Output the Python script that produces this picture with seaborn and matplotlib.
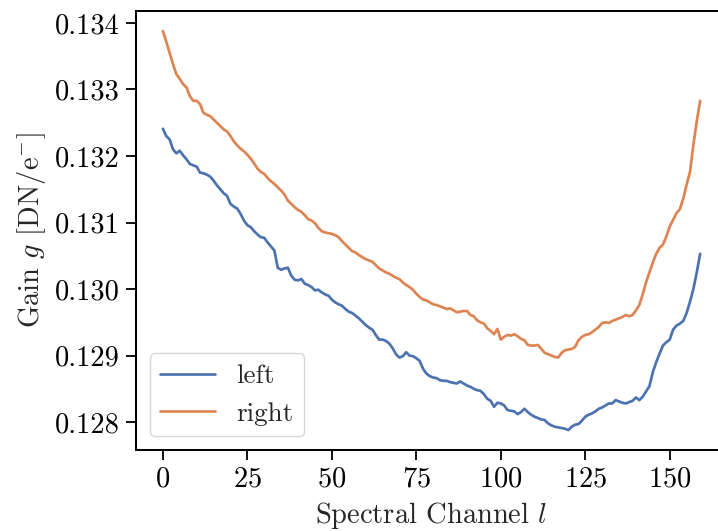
import numpy as np
import pandas as pd
import matplotlib
matplotlib.use("Agg")
import matplotlib.pyplot as plt
import seaborn as sns

# Gain values in units of 1e-3 DN/e-
channels = list(range(160))
gain_left = [
    132.41, 132.30, 132.25, 132.10, 132.04, 132.08, 132.01, 131.95, 131.88, 131.86,
    131.84, 131.75, 131.74, 131.72, 131.69, 131.63, 131.56, 131.50, 131.44, 131.40,
    131.28, 131.24, 131.21, 131.13, 131.03, 130.96, 130.93, 130.87, 130.82, 130.78,
    130.77, 130.70, 130.64, 130.58, 130.32, 130.29, 130.31, 130.32, 130.20, 130.14,
    130.13, 130.15, 130.08, 130.06, 130.03, 129.98, 129.99, 129.95, 129.92, 129.90,
    129.84, 129.80, 129.77, 129.75, 129.70, 129.66, 129.64, 129.60, 129.56, 129.51,
    129.46, 129.42, 129.39, 129.31, 129.24, 129.24, 129.22, 129.18, 129.11, 129.02,
    128.97, 128.99, 129.05, 129.00, 128.99, 128.96, 128.92, 128.80, 128.73, 128.69,
    128.67, 128.66, 128.63, 128.62, 128.62, 128.60, 128.59, 128.58, 128.61, 128.58,
    128.55, 128.53, 128.50, 128.48, 128.47, 128.42, 128.35, 128.32, 128.23, 128.29,
    128.28, 128.25, 128.18, 128.17, 128.16, 128.12, 128.15, 128.20, 128.15, 128.11,
    128.08, 128.06, 128.04, 128.03, 127.98, 127.95, 127.93, 127.92, 127.91, 127.90,
    127.88, 127.93, 127.96, 127.97, 128.02, 128.08, 128.11, 128.13, 128.16, 128.20,
    128.22, 128.25, 128.28, 128.28, 128.33, 128.31, 128.29, 128.28, 128.30, 128.32,
    128.37, 128.33, 128.38, 128.46, 128.54, 128.75, 128.90, 129.03, 129.15, 129.20,
    129.24, 129.39, 129.45, 129.48, 129.52, 129.64, 129.81, 130.00, 130.25, 130.53,
]
gain_right = [
    133.88, 133.72, 133.55, 133.38, 133.23, 133.16, 133.08, 133.03, 132.90, 132.83,
    132.83, 132.78, 132.65, 132.62, 132.60, 132.55, 132.50, 132.45, 132.40, 132.37,
    132.30, 132.22, 132.16, 132.11, 132.07, 132.02, 131.96, 131.89, 131.81, 131.76,
    131.73, 131.67, 131.62, 131.58, 131.53, 131.48, 131.42, 131.33, 131.28, 131.23,
    131.19, 131.16, 131.11, 131.05, 131.03, 130.99, 130.92, 130.87, 130.85, 130.84,
    130.83, 130.81, 130.78, 130.72, 130.67, 130.62, 130.57, 130.55, 130.51, 130.48,
    130.45, 130.43, 130.41, 130.36, 130.31, 130.28, 130.25, 130.23, 130.20, 130.17,
    130.15, 130.10, 130.06, 130.03, 129.99, 129.93, 129.88, 129.84, 129.83, 129.80,
    129.77, 129.76, 129.74, 129.72, 129.70, 129.71, 129.68, 129.65, 129.66, 129.67,
    129.67, 129.61, 129.59, 129.53, 129.50, 129.48, 129.41, 129.37, 129.32, 129.40,
    129.24, 129.28, 129.31, 129.30, 129.32, 129.29, 129.25, 129.23, 129.16, 129.15,
    129.15, 129.16, 129.10, 129.04, 129.02, 129.00, 128.98, 128.97, 129.04, 129.08,
    129.09, 129.10, 129.13, 129.23, 129.28, 129.31, 129.32, 129.35, 129.39, 129.43,
    129.49, 129.50, 129.49, 129.52, 129.54, 129.56, 129.58, 129.61, 129.59, 129.61,
    129.68, 129.76, 129.92, 130.10, 130.25, 130.40, 130.53, 130.62, 130.67, 130.79,
    130.94, 131.04, 131.14, 131.20, 131.36, 131.57, 131.76, 132.17, 132.52, 132.83,
]
series_names = ["left", "right"]

df = pd.concat([
    pd.DataFrame({"channel": channels, "gain": np.array(gain_left) * 1e-3, "side": series_names[0]}),
    pd.DataFrame({"channel": channels, "gain": np.array(gain_right) * 1e-3, "side": series_names[1]}),
])

sns.set_theme(style="ticks", palette="deep")
plt.rcParams.update({
    "font.family": ["cmr10", "DejaVu Serif"],
    "mathtext.fontset": "cm",
    "axes.formatter.use_mathtext": True,
    "axes.unicode_minus": False,
    "font.size": 20.5,
    "axes.labelsize": 20.5,
    "xtick.labelsize": 20.5,
    "ytick.labelsize": 20.5,
    "legend.fontsize": 19.5,
    "axes.linewidth": 1.45,
    "xtick.major.width": 1.3,
    "ytick.major.width": 1.3,
    "xtick.major.size": 7.2,
    "ytick.major.size": 7.2,
    "xtick.major.pad": 4.5,
    "ytick.major.pad": 4.5,
    "axes.labelpad": 5,
    "axes.edgecolor": "black",
    "xtick.color": "black",
    "ytick.color": "black",
})

fig = plt.figure(figsize=(7.18, 5.31), dpi=100)
W, H = 718, 531
ax = fig.add_axes([136 / W, 1 - 450 / H, (727 - 136) / W, (450 - 11) / H])

sns.lineplot(data=df, x="channel", y="gain", hue="side", ax=ax, linewidth=1.95)

ax.set_xticks([0, 25, 50, 75, 100, 125, 150])
ax.set_yticks([0.128, 0.129, 0.130, 0.131, 0.132, 0.133, 0.134])
ax.set_yticklabels(["0.128", "0.129", "0.130", "0.131", "0.132", "0.133", "0.134"])
ax.set_xlabel(r"Spectral Channel $l$")
ax.set_ylabel(r"Gain $g$ [DN/e$^{-}$]")
leg = ax.legend(loc="lower left", title=None)

fig.savefig("out.png", dpi=100)
